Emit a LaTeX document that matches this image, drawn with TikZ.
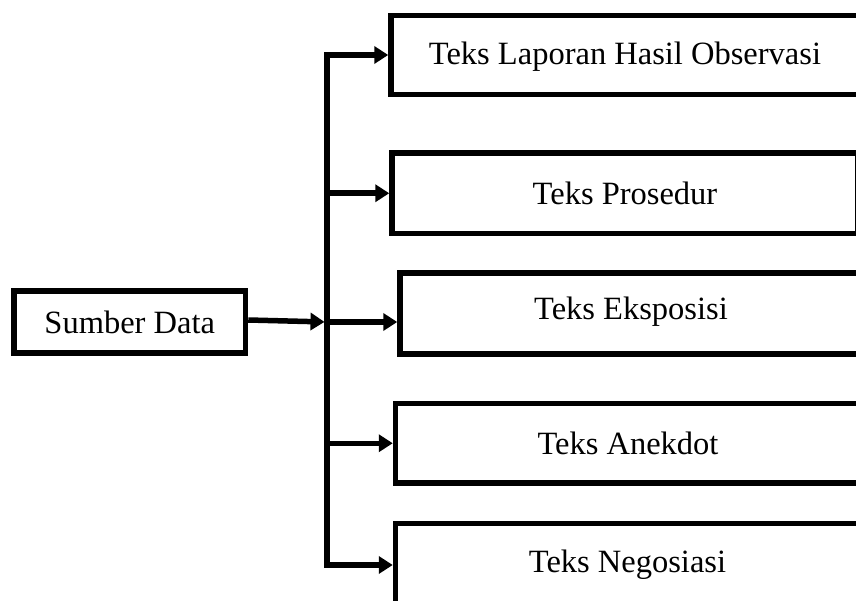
\documentclass[tikz,border=0pt]{standalone}
\usepackage{fontspec}
\setmainfont{Liberation Serif}
\usetikzlibrary{arrows.meta}
\tikzset{
  lbl/.style={font=\fontsize{32.5}{38}\selectfont},
  box/.style={draw, line width=5.5pt, inner sep=0pt, fill=white, lbl},
  arr/.style={line width=5.5pt, line join=miter, -{Triangle[length=14pt,width=17pt]}},
  arrboth/.style={line width=5.5pt, line join=miter, {Triangle[length=14pt,width=17pt]}-{Triangle[length=14pt,width=17pt]}}
}
\begin{document}
\begin{tikzpicture}[x=1pt,y=-1pt]
\useasboundingbox (0,0) rectangle (856,601);
\fill[white] (0,0) rectangle (856,601);
\node[box, minimum width=231.5pt, minimum height=62pt] (sd) at (129.75,322) {Sumber Data};
\node[box, minimum width=468pt, minimum height=79pt] (b1) at (625,55) {};
\node[lbl] (t1) at (625,57) {Teks Laporan Hasil Observasi};
\node[box, minimum width=466pt, minimum height=80.5pt] (b2) at (625,193.25) {};
\node[lbl] (t2) at (625,193) {Teks Prosedur};
\node[box, minimum width=462pt, minimum height=81pt] (b3) at (631,313.5) {};
\node[lbl] (t3) at (631,312) {Teks Eksposisi};
\node[box, minimum width=465pt, minimum height=79.5pt] (b4) at (628,443.25) {};
\node[lbl] (t4) at (628,443) {Teks Anekdot};
\node[box, minimum width=464pt, minimum height=83.5pt] (b5) at (627.5,565) {};
\node[lbl] (t5) at (627.5,565) {Teks Negosiasi};
\coordinate (st) at (327,55);
\coordinate (sb) at (327,565);
\coordinate (j) at (327,322);
\coordinate (j2) at (327,193.25);
\coordinate (j4) at (327,443.25);
\draw[arrboth] (b1.west) -- (st) -- (sb) -- (b5.west);
\draw[arr, shorten >=2.5pt] (sd.east |- 0,320) -- (j);
\draw[arr] (j) -- (j -| b3.west);
\draw[arr] (j2) -- (b2.west);
\draw[arr] (j4) -- (b4.west);
\end{tikzpicture}
\end{document}
